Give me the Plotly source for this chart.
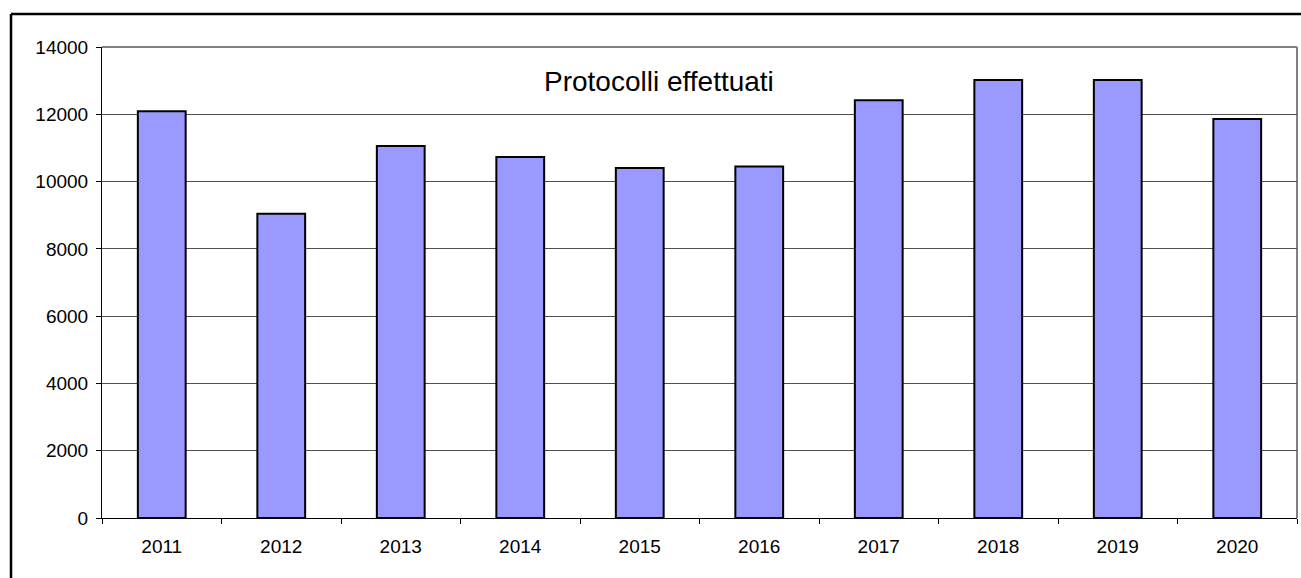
import plotly.graph_objects as go

# Protocolli effettuati per anno
anni = ["2011", "2012", "2013", "2014", "2015", "2016", "2017", "2018", "2019", "2020"]
protocolli = [12090, 9040, 11060, 10730, 10400, 10450, 12420, 13020, 13020, 11860]
y_ticks = [0, 2000, 4000, 6000, 8000, 10000, 12000, 14000]

W, H = 1301, 578
L, R, T, B = 102, 4, 47, 60
pw, ph = W - L - R, H - T - B


def px_x(px):
    return (px - L) / pw


def px_y(py):
    return (H - B - py) / ph


fig = go.Figure(
    go.Bar(
        x=anni,
        y=protocolli,
        width=0.4,
        marker=dict(color="#9999FF", line=dict(color="black", width=2)),
    )
)

fig.update_layout(
    width=W,
    height=H,
    margin=dict(l=L, r=R, t=T, b=B),
    paper_bgcolor="white",
    plot_bgcolor="white",
    showlegend=False,
    font=dict(family="Liberation Sans, Arial, sans-serif", size=19, color="black"),
    bargap=0.6,
)

fig.update_xaxes(
    type="category",
    showgrid=False,
    showline=True,
    linecolor="black",
    linewidth=1,
    ticks="outside",
    tickson="boundaries",
    ticklen=5,
    tickcolor="black",
    ticklabelstandoff=11,
    zeroline=False,
)

fig.update_yaxes(
    range=[0, 14000],
    tickvals=y_ticks,
    ticktext=[str(v) for v in y_ticks],
    showgrid=True,
    gridcolor="#505050",
    gridwidth=1,
    showline=True,
    linecolor="black",
    linewidth=1,
    ticks="outside",
    ticklen=5,
    tickcolor="black",
    ticklabelstandoff=4,
    zeroline=False,
)

# Gray frame on top and right of the plot area
fig.add_shape(type="line", xref="paper", yref="paper", x0=0, x1=1, y0=1, y1=1,
              line=dict(color="#808080", width=2), layer="below")
fig.add_shape(type="line", xref="paper", yref="paper", x0=1, x1=1, y0=0, y1=1,
              line=dict(color="#808080", width=2), layer="below")

# Outer chart border (top and left edges)
fig.add_shape(type="line", xref="paper", yref="paper",
              x0=px_x(11), x1=px_x(W + 20), y0=px_y(14), y1=px_y(14),
              line=dict(color="black", width=2.5))
fig.add_shape(type="line", xref="paper", yref="paper",
              x0=px_x(11), x1=px_x(11), y0=px_y(14), y1=px_y(H + 20),
              line=dict(color="black", width=2.5))

fig.add_annotation(
    text="Protocolli effettuati",
    xref="paper", yref="paper",
    x=px_x(659), y=px_y(81),
    xanchor="center", yanchor="middle",
    showarrow=False,
    font=dict(family="Liberation Sans, Arial, sans-serif", size=28, color="black"),
)

fig.write_html("out.html")
